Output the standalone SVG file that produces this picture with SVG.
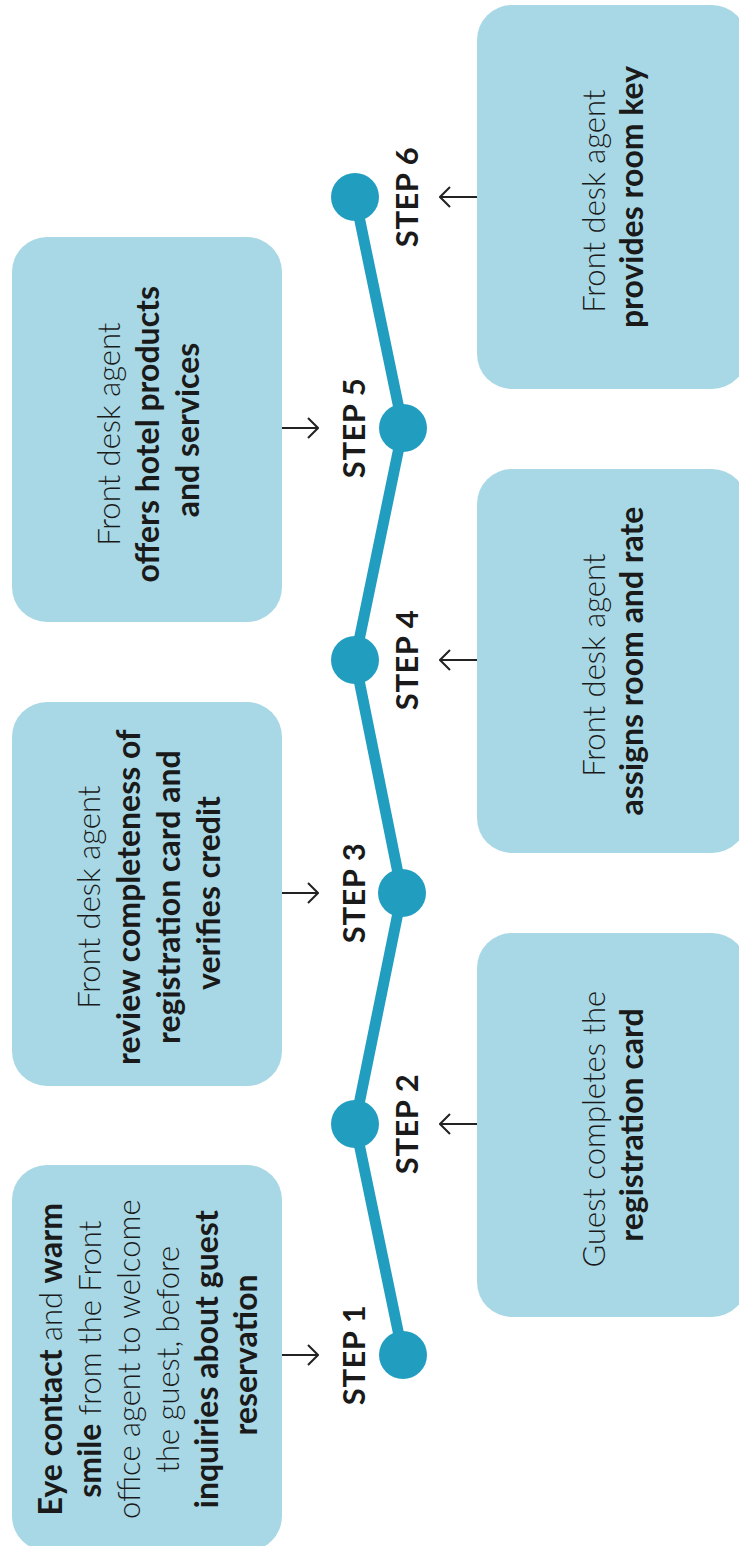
<svg xmlns="http://www.w3.org/2000/svg" width="739" height="1546" viewBox="0 0 739 1546">
<defs>
<style>
.box{fill:#A8D8E5}
.t{font-family:Lato,"Open Sans","Liberation Sans",sans-serif;font-size:31px;fill:#1a1a1a;text-anchor:middle}
.l{font-weight:300}
.b{font-weight:700;font-size:32px}
.step{font-family:Lato,"Open Sans","Liberation Sans",sans-serif;font-size:31px;font-weight:700;fill:#1a1a1a;text-anchor:middle;letter-spacing:0.5px}
.line{fill:none;stroke:#219EBF;stroke-width:11;stroke-linejoin:round}
.dot{fill:#219EBF}
.arr{fill:none;stroke:#222;stroke-width:2;marker-end:url(#ah)}
</style>
<marker id="ah" viewBox="0 0 12 22" refX="11" refY="11" markerWidth="12" markerHeight="22" markerUnits="userSpaceOnUse" orient="auto">
<path d="M1,1 L11,11 L1,21" fill="none" stroke="#222" stroke-width="2"/>
</marker>
</defs>
<rect width="739" height="1546" fill="#ffffff"/>

<g id="connectors">
<polyline class="line" points="403,1355 355,1124 402,893 355,660 403,428 355,197"/>
<path class="arr" d="M282,1355 H318"/>
<path class="arr" d="M477,1124 H440"/>
<path class="arr" d="M282,893 H318"/>
<path class="arr" d="M477,660 H440"/>
<path class="arr" d="M282,428 H318"/>
<path class="arr" d="M477,197 H440"/>
</g>

<g id="step1">
<circle class="dot" cx="403" cy="1355" r="24"/>
<text class="step" transform="translate(365,1355) rotate(-90)">STEP 1</text>
</g>
<g id="step2">
<circle class="dot" cx="355" cy="1124" r="24"/>
<text class="step" transform="translate(418,1124) rotate(-90)">STEP 2</text>
</g>
<g id="step3">
<circle class="dot" cx="402" cy="893" r="24"/>
<text class="step" transform="translate(365,893) rotate(-90)">STEP 3</text>
</g>
<g id="step4">
<circle class="dot" cx="355" cy="660" r="24"/>
<text class="step" transform="translate(418,660) rotate(-90)">STEP 4</text>
</g>
<g id="step5">
<circle class="dot" cx="403" cy="428" r="24"/>
<text class="step" transform="translate(365,428) rotate(-90)">STEP 5</text>
</g>
<g id="step6">
<circle class="dot" cx="355" cy="197" r="24"/>
<text class="step" transform="translate(418,197) rotate(-90)">STEP 6</text>
</g>

<g id="box1">
<rect class="box" x="12" y="1165" width="270" height="386" rx="35"/>
<text class="t l" transform="translate(0,1355) rotate(-90)">
<tspan x="0" y="62"><tspan class="b">Eye contact</tspan> and <tspan class="b">warm</tspan></tspan>
<tspan x="0" y="101"><tspan class="b">smile</tspan> from the Front</tspan>
<tspan x="0" y="140">office agent to welcome</tspan>
<tspan x="0" y="179">the guest, before</tspan>
<tspan x="0" y="218" class="b">inquiries about guest</tspan>
<tspan x="0" y="257" class="b">reservation</tspan>
</text>
</g>

<g id="box2">
<rect class="box" x="477" y="933" width="270" height="384" rx="35"/>
<text class="t l" transform="translate(0,1125) rotate(-90)">
<tspan x="0" y="605">Guest completes the</tspan>
<tspan x="0" y="643" class="b">registration card</tspan>
</text>
</g>

<g id="box3">
<rect class="box" x="12" y="702" width="270" height="384" rx="35"/>
<text class="t l" transform="translate(0,893) rotate(-90)">
<tspan x="0" y="100">Front desk agent</tspan>
<tspan x="0" y="140" class="b">review completeness of</tspan>
<tspan x="0" y="180" class="b">registration card and</tspan>
<tspan x="0" y="220" class="b">verifies credit</tspan>
</text>
</g>

<g id="box4">
<rect class="box" x="477" y="469" width="270" height="384" rx="35"/>
<text class="t l" transform="translate(0,661) rotate(-90)">
<tspan x="0" y="605">Front desk agent</tspan>
<tspan x="0" y="643" class="b">assigns room and rate</tspan>
</text>
</g>

<g id="box5">
<rect class="box" x="12" y="237" width="270" height="385" rx="35"/>
<text class="t l" transform="translate(0,430) rotate(-90)">
<tspan x="0" y="120">Front desk agent</tspan>
<tspan x="0" y="159" class="b">offers hotel products</tspan>
<tspan x="0" y="199" class="b">and services</tspan>
</text>
</g>

<g id="box6">
<rect class="box" x="477" y="5" width="270" height="384" rx="35"/>
<text class="t l" transform="translate(0,197) rotate(-90)">
<tspan x="0" y="605">Front desk agent</tspan>
<tspan x="0" y="643" class="b">provides room key</tspan>
</text>
</g>
</svg>
